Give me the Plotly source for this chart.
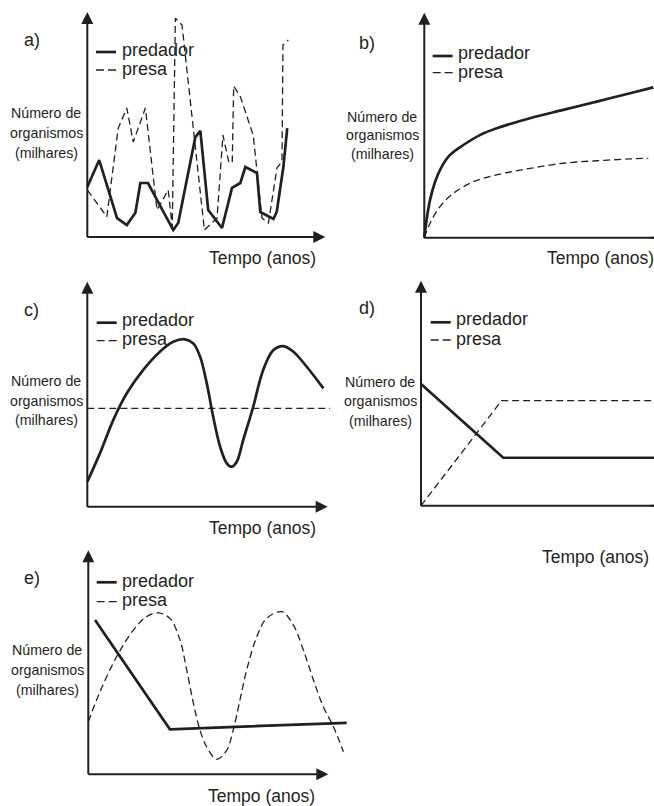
import plotly.graph_objects as go

W, H = 654, 806
INK = "#231f20"
FONT = "Liberation Sans, Arial, Helvetica, sans-serif"

# ---------------- data (arbitrary units: tempo 0-100, organismos 0-100) ----------------
# a) irregular fluctuations
a_t_pred = [0, 5.0, 12.5, 16.6, 20.2, 22.3, 25.5, 36.1, 38.2, 45.4, 47.5, 50.8, 56.6,
            60.8, 64.3, 66.4, 71.3, 72.7, 78.2, 79.6, 82.4, 84.0]
a_pred = [22.2, 34.2, 8.4, 5.3, 10.8, 24.0, 24.0, 3.1, 6.2, 44.4, 47.2, 12.0, 4.0,
          21.8, 24.0, 31.1, 28.4, 11.1, 8.0, 11.2, 31.2, 48.4]
a_t_prey = [0, 8.2, 13.0, 16.6, 19.3, 24.4, 29.3, 34.0, 35.7, 37.0, 39.8, 49.2, 54.5,
            57.0, 59.4, 60.9, 61.5, 64.3, 69.7, 71.3, 73.4, 76.1, 79.7, 81.8, 82.2, 84.5]
a_prey = [20.9, 9.0, 48.4, 57.3, 42.2, 57.3, 12.0, 20.9, 4.4, 97.3, 94.2, 3.1, 8.4,
          45.3, 33.5, 32.9, 67.1, 62.4, 45.3, 28.4, 8.4, 6.2, 30.7, 33.5, 85.3, 87.6]

# b) both grow
b_t_pred = [0, 1.0, 2.5, 4.7, 7.6, 11.2, 17.0, 24.2, 31.5, 46.0, 60.5, 75.1, 89.6, 99.7]
b_pred = [0, 7.9, 16.8, 24.9, 31.6, 36.8, 41.2, 45.6, 48.6, 53.1, 56.8, 60.5, 64.2, 66.8]
b_t_prey = [0, 2.5, 6.8, 12.6, 19.9, 25.7, 34.4, 46.0, 60.5, 75.1, 89.6, 97.5]
b_prey = [0, 6.4, 13.8, 19.7, 24.2, 26.4, 28.6, 30.8, 33.1, 34.2, 35.0, 35.3]

# c) predator oscillates, prey constant
c_t_pred = [0, 5.3, 10.9, 16.6, 23.5, 30.5, 36.1, 41.1, 44.5, 47.4, 50.2, 52.9, 55.8,
            58.6, 60.7, 62.8, 65.5, 69.7, 73.9, 78.2, 82.4, 86.6, 92.2, 99.2]
c_pred = [11.1, 23.7, 38.5, 50.4, 60.8, 68.9, 73.3, 74.4, 72.6, 66.7, 54.8, 40.0, 26.7,
          19.3, 17.8, 20.0, 29.6, 44.4, 60.8, 69.6, 71.4, 68.9, 62.2, 52.6]
c_t_prey = [0, 102]
c_prey = [43.7, 43.7]

# d) predator falls then stabilises, prey rises then stabilises
d_t_pred = [0, 35.3, 102]
d_pred = [54.1, 21.3, 21.3]
d_t_prey = [0, 34.6, 102]
d_prey = [0, 46.7, 46.7]

# e) predator falls then stable, prey oscillates
e_t_pred = [2.8, 34.0, 107.7]
e_pred = [68.9, 20.1, 23.0]
e_t_prey = [0, 4.9, 11.8, 18.8, 24.3, 29.2, 34.0, 38.2, 41.0, 43.8, 46.5, 49.3, 53.5,
            57.7, 60.4, 63.2, 66.0, 70.2, 74.3, 80.6, 85.4, 89.6, 93.8, 97.9, 102.1, 106.3]
e_prey = [23.5, 36.9, 52.5, 64.4, 70.4, 72.1, 69.6, 60.0, 46.6, 31.7, 19.8, 12.3, 6.7,
          10.8, 19.8, 33.2, 46.6, 61.4, 69.6, 72.6, 66.7, 55.5, 42.1, 30.2, 21.3, 10.1]

LABELS = ["a)", "b)", "c)", "d)", "e)"]
YLABEL = ["Número de", "organismos", "(milhares)"]
XLABEL = "Tempo (anos)"
LEG = ["predador", "presa"]

# ---------------- layout of panels (pixels) ----------------
panels = [
    dict(ox=87.3, oy=237.0, sx=2.38, sy=2.25, xtip=100, ytip=100,
         tpred=a_t_pred, pred=a_pred, tprey=a_t_prey, prey=a_prey,
         spred="linear", sprey="linear",
         lab=(21.7, 40), leg=(96, 52, 70, 120, 50, 69), ylab=(46, [113, 133, 153]), xlab=(262, 258)),
    dict(ox=424.3, oy=237.7, sx=2.297, sy=2.25, xtip=106, ytip=100,
         tpred=b_t_pred, pred=b_pred, tprey=b_t_prey, prey=b_prey,
         spred="spline", sprey="spline",
         lab=(357, 43), leg=(432.7, 56, 72.7, 456, 53, 71.7), ylab=(382, [116.5, 135, 154]), xlab=(600, 258)),
    dict(ox=87.3, oy=506.7, sx=2.38, sy=2.25, xtip=101, ytip=100,
         tpred=c_t_pred, pred=c_pred, tprey=c_t_prey, prey=c_prey,
         spred="spline", sprey="linear",
         lab=(21.7, 310), leg=(96.7, 322.7, 340.7, 120, 320, 339), ylab=(46, [381, 401, 420]), xlab=(262, 528)),
    dict(ox=421.0, oy=505.7, sx=2.33, sy=2.25, xtip=106, ytip=100,
         tpred=d_t_pred, pred=d_pred, tprey=d_t_prey, prey=d_prey,
         spred="linear", sprey="linear",
         lab=(356.7, 308), leg=(430.7, 322.3, 340, 454, 319.3, 339.3), ylab=(380, [381.5, 401, 421]), xlab=(595.5, 556.7)),
    dict(ox=88.3, oy=774.3, sx=2.4, sy=2.24, xtip=100, ytip=100,
         tpred=e_t_pred, pred=e_pred, tprey=e_t_prey, prey=e_prey,
         spred="linear", sprey="spline",
         lab=(21.7, 578), leg=(96.7, 582.3, 601.7, 120, 580.7, 600), ylab=(47, [650, 670, 690]), xlab=(261.7, 796)),
]


def frame(ox, oy, sx, sy, xr=(-3, 110), yr=(-3, 103)):
    L = max(0.0, ox + xr[0] * sx)
    R = min(float(W), ox + xr[1] * sx)
    T = max(0.0, oy - yr[1] * sy)
    B = min(float(H), oy - yr[0] * sy)
    return ([L / W, R / W], [1 - B / H, 1 - T / H],
            [(L - ox) / sx, (R - ox) / sx], [(oy - B) / sy, (oy - T) / sy])


def px(x):
    return x / W


def py(y):
    return 1 - y / H


fig = go.Figure()
annotations = []
shapes = []
layout_axes = {}

for i, p in enumerate(panels, start=1):
    sfx = "" if i == 1 else str(i)
    xref, yref = "x" + sfx, "y" + sfx
    xdom, ydom, xrange_, yrange_ = frame(p["ox"], p["oy"], p["sx"], p["sy"])
    layout_axes["xaxis" + sfx] = dict(domain=xdom, range=xrange_, visible=False,
                                      fixedrange=True, anchor=yref)
    layout_axes["yaxis" + sfx] = dict(domain=ydom, range=yrange_, visible=False,
                                      fixedrange=True, anchor=xref)

    fig.add_trace(go.Scatter(x=p["tprey"], y=p["prey"], mode="lines", xaxis=xref, yaxis=yref,
                             line=dict(color=INK, width=1.3, dash="7px,4px", shape=p["sprey"]),
                             name=LEG[1], hoverinfo="skip"))
    fig.add_trace(go.Scatter(x=p["tpred"], y=p["pred"], mode="lines", xaxis=xref, yaxis=yref,
                             line=dict(color=INK, width=2.7, shape=p["spred"]),
                             name=LEG[0], hoverinfo="skip"))

    # axes lines
    shapes.append(dict(type="line", xref=xref, yref=yref, x0=0, y0=0, x1=0, y1=p["ytip"] - 3,
                       line=dict(color=INK, width=2)))
    shapes.append(dict(type="line", xref=xref, yref=yref, x0=0, y0=0, x1=p["xtip"] - 3, y1=0,
                       line=dict(color=INK, width=2)))
    # arrow heads
    annotations.append(dict(x=0, y=p["ytip"], ax=0, ay=p["ytip"] - 4, xref=xref, yref=yref,
                            axref=xref, ayref=yref, text="", showarrow=True, arrowhead=2,
                            arrowsize=1.2, arrowwidth=2, arrowcolor=INK))
    annotations.append(dict(x=p["xtip"], y=0, ax=min(p["xtip"] - 4, 98), ay=0, xref=xref, yref=yref,
                            axref=xref, ayref=yref, text="", showarrow=True, arrowhead=2,
                            arrowsize=1.2, arrowwidth=2, arrowcolor=INK))

    # panel letter
    annotations.append(dict(x=px(p["lab"][0]), y=py(p["lab"][1]), xref="paper", yref="paper",
                            text=LABELS[i - 1], showarrow=False, xanchor="left", yanchor="middle",
                            font=dict(family=FONT, size=18, color=INK)))
    # legend
    lx, ly1, ly2, tx, ty1, ty2 = p["leg"]
    shapes.append(dict(type="line", xref="paper", yref="paper", x0=px(lx), x1=px(lx + 20),
                       y0=py(ly1), y1=py(ly1), line=dict(color=INK, width=2.7)))
    shapes.append(dict(type="line", xref="paper", yref="paper", x0=px(lx), x1=px(lx + 20),
                       y0=py(ly2), y1=py(ly2), line=dict(color=INK, width=1.3, dash="8px,4px")))
    annotations.append(dict(x=px(tx), y=py(ty1), xref="paper", yref="paper", text=LEG[0],
                            showarrow=False, xanchor="left", yanchor="middle",
                            font=dict(family=FONT, size=18, color=INK)))
    annotations.append(dict(x=px(tx), y=py(ty2), xref="paper", yref="paper", text=LEG[1],
                            showarrow=False, xanchor="left", yanchor="middle",
                            font=dict(family=FONT, size=18, color=INK)))
    # y label lines
    cx, ys = p["ylab"]
    for txt, yy in zip(YLABEL, ys):
        annotations.append(dict(x=px(cx), y=py(yy), xref="paper", yref="paper", text=txt,
                                showarrow=False, xanchor="center", yanchor="middle",
                                font=dict(family=FONT, size=14.2, color=INK)))
    # x label
    annotations.append(dict(x=px(p["xlab"][0]), y=py(p["xlab"][1]), xref="paper", yref="paper",
                            text=XLABEL, showarrow=False, xanchor="center", yanchor="middle",
                            font=dict(family=FONT, size=17.5, color=INK)))

fig.update_layout(
    width=W, height=H, margin=dict(l=0, r=0, t=0, b=0),
    paper_bgcolor="white", plot_bgcolor="white", showlegend=False,
    annotations=annotations, shapes=shapes, **layout_axes,
)

fig.write_html("out.html", config={"displayModeBar": False},
               post_script="document.body.style.margin='0';document.body.style.overflow='hidden';")
